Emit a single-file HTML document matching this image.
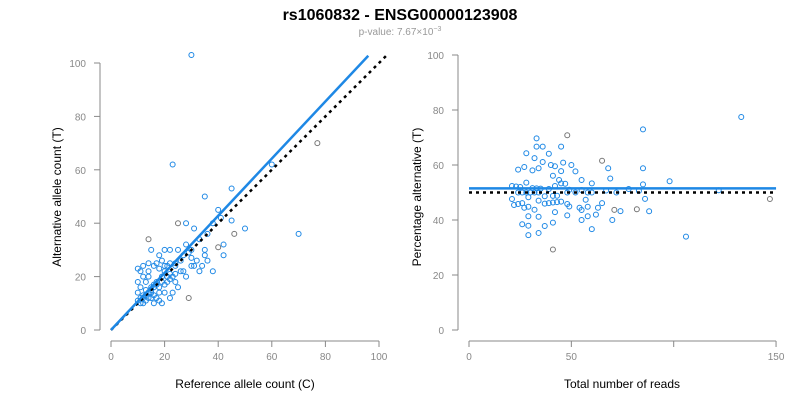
<!DOCTYPE html>
<html><head><meta charset="utf-8"><style>
body{margin:0;background:#fff;}
svg{font-family:"Liberation Sans",Arial,sans-serif;}
</style></head><body>
<svg id="c" width="800" height="400" xmlns="http://www.w3.org/2000/svg">
<text x="400" y="20" text-anchor="middle" font-size="16" font-weight="bold">rs1060832 - ENSG00000123908</text>
<text x="400" y="35" text-anchor="middle" font-size="10" fill="#999">p-value: 7.67×10<tspan dy="-4" font-size="7">−3</tspan></text>
<text transform="translate(61,197) rotate(-90)" text-anchor="middle" font-size="12">Alternative allele count (T)</text>
<text x="245" y="388" text-anchor="middle" font-size="12">Reference allele count (C)</text>
<text transform="translate(421,197) rotate(-90)" text-anchor="middle" font-size="12">Percentage alternative (T)</text>
<text x="622" y="388" text-anchor="middle" font-size="12">Total number of reads</text>
<g id="g"></g>
</svg>
<script>
const refCounts=[30,77,70,60,23,45,35,40,41,45,38,42,40,35,28,25,31,33,36,30,28,25,22,20,18,15,14,17,20,22,24,26,27,30,31,33,35,29,14,12,11,10,13,15,16,17,18,19,20,21,22,23,24,12,11,10,12,14,16,18,19,21,13,14,15,16,17,18,19,13,12,11,10,10,11,12,13,14,15,16,17,19,20,21,22,24,25,26,28,30,32,34,36,38,20,18,16,15,14,22,23,24,27,29,46,42,50];
const altCounts=[103,70,36,62,62,53,50,45,42,41,40,32,31,30,40,40,38,34,36,30,32,30,30,30,28,30,34,25,24,25,25,26,28,27,24,22,28,12,12,10,12,14,15,16,17,18,16,20,22,18,19,20,21,20,22,23,24,25,24,23,26,24,18,20,14,13,12,11,10,11,13,16,18,11,10,12,13,14,15,16,17,18,17,20,21,18,16,22,20,24,26,24,26,22,14,14,10,12,22,12,14,24,22,29,36,28,38];
const greyIdx=[1,12,26,15,37,104];
const leftTicks=[0,20,40,60,80,100];
const rightXTicks=[0,50,150];
const rightXTickLabels=[0,50,150];
const rightYTicks=[0,20,40,60,80,100];
const leftFit=[0,1.07];   // intercept, slope
const rightFitPct=51.5;
const NS="http://www.w3.org/2000/svg";
const g=document.getElementById('g');
function mk(t,a){const e=document.createElementNS(NS,t);for(const k in a)e.setAttribute(k,a[k]);g.appendChild(e);return e;}
const lx=v=>111+v*2.68, ly=v=>330-v*2.67;
const rx=v=>469+v*2.047, ry=v=>330-v*2.75;
// left axes
let e=mk('line',{x1:100,y1:ly(0),x2:100,y2:ly(100),stroke:'#888'});

e=mk('line',{x1:lx(0),y1:341,x2:lx(100),y2:341,stroke:'#888'});

leftTicks.forEach(t=>{
 mk('line',{x1:94,y1:ly(t),x2:100,y2:ly(t),stroke:'#888'});
 e=mk('text',{x:86,y:ly(t)+4,'text-anchor':'end','font-size':10,fill:'#888'});e.textContent=t;
 
 mk('line',{x1:lx(t),y1:341,x2:lx(t),y2:347,stroke:'#888'});
 e=mk('text',{x:lx(t),y:360,'text-anchor':'middle','font-size':10,fill:'#888'});e.textContent=t;
 
});
// right axes
e=mk('line',{x1:458,y1:ry(0),x2:458,y2:ry(100),stroke:'#888'});

e=mk('line',{x1:rx(0),y1:341,x2:rx(150),y2:341,stroke:'#888'});

rightYTicks.forEach(t=>{
 mk('line',{x1:452,y1:ry(t),x2:458,y2:ry(t),stroke:'#888'});
 e=mk('text',{x:444,y:ry(t)+4,'text-anchor':'end','font-size':10,fill:'#888'});e.textContent=t;
 
});
[0,50,100,150].forEach(t=>mk('line',{x1:rx(t),y1:341,x2:rx(t),y2:347,stroke:'#888'}));
rightXTicks.forEach((t,i)=>{
 e=mk('text',{x:rx(t),y:360,'text-anchor':'middle','font-size':10,fill:'#888'});e.textContent=rightXTickLabels[i];
 
});
// points
refCounts.forEach((r,i)=>{
 const a=altCounts[i];const col=greyIdx.includes(i)?'#777':'#1e88e5';
 e=mk('circle',{cx:lx(r),cy:ly(a),r:2.5,fill:'none',stroke:col,'stroke-width':1});
 
 const tot=r+a,p=a/tot*100;
 e=mk('circle',{cx:rx(tot),cy:ry(p),r:2.5,fill:'none',stroke:col,'stroke-width':1});
 
});
// lines
e=mk('line',{x1:lx(0),y1:ly(0),x2:lx(103),y2:ly(103),stroke:'#000','stroke-width':2.5,'stroke-dasharray':'3,4'});

e=mk('line',{x1:lx(0),y1:ly(leftFit[0]),x2:lx(96),y2:ly(leftFit[0]+leftFit[1]*96),stroke:'#1e88e5','stroke-width':2.5});

e=mk('line',{x1:rx(0),y1:ry(50),x2:rx(150),y2:ry(50),stroke:'#000','stroke-width':2.5,'stroke-dasharray':'3,4'});

e=mk('line',{x1:rx(0),y1:ry(rightFitPct),x2:rx(150),y2:ry(rightFitPct),stroke:'#1e88e5','stroke-width':2.5});

</script>
</body></html>
